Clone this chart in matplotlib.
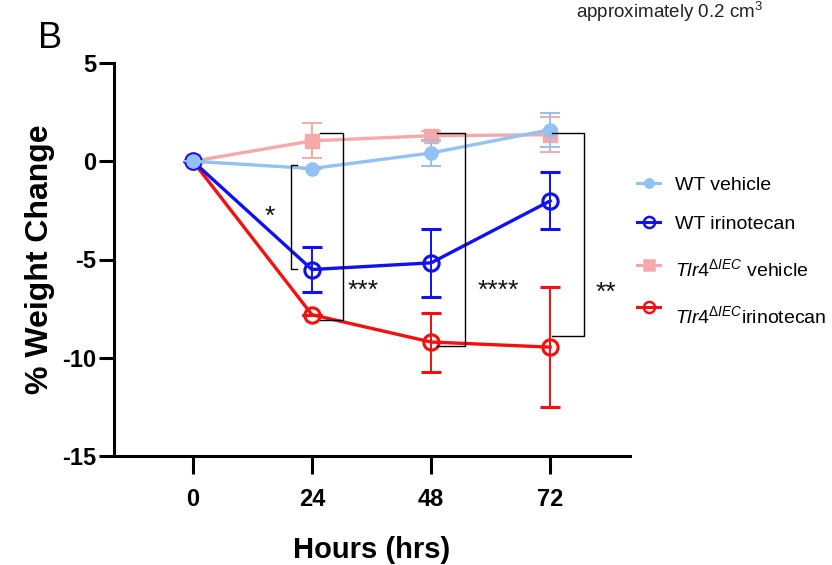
import matplotlib
matplotlib.use('Agg')
import matplotlib.pyplot as plt
from matplotlib.lines import Line2D

plt.rcParams['font.family'] = ['Liberation Sans', 'DejaVu Sans']
plt.rcParams['mathtext.fontset'] = 'custom'
plt.rcParams['mathtext.rm'] = 'Liberation Sans'
plt.rcParams['mathtext.it'] = 'Liberation Sans:italic'
plt.rcParams['mathtext.bf'] = 'Liberation Sans:bold'
plt.rcParams['axes.unicode_minus'] = False

# ---------------- data ----------------
hours = [0, 24, 48, 72]
xtick_labels = ['0', '24', '48', '72']
yticks = [5, 0, -5, -10, -15]

wt_veh = [0, -0.37, 0.42, 1.6]
wt_veh_err = [0, 0, 0.66, 0.85]
wt_iri = [0, -5.51, -5.17, -2.02]
wt_iri_err = [0, 1.16, 1.72, 1.45]
tlr_veh = [0, 1.04, 1.3, 1.35]
tlr_veh_err = [0, 0.9, 0.25, 0.9]
tlr_iri = [0, -7.81, -9.2, -9.46]
tlr_iri_err = [0, 0, 1.5, 3.05]

legend_labels = ['WT vehicle', 'WT irinotecan',
                 r'$\mathit{Tlr4}^{\mathit{\Delta IEC}}$ vehicle',
                 r'$\mathit{Tlr4}^{\mathit{\Delta IEC}}$irinotecan']

# significance brackets: (x of vertical, x of end ticks, y top, y bottom)
brackets = [(19.76, 20.97, -0.2, -5.46),
            (30.25, 25.6, 1.43, -8.1),
            (54.86, 49.2, 1.43, -9.42),
            (78.86, 72.4, 1.43, -8.91)]
stars = [('*', 15.5, -2.85), ('***', 34.3, -6.6), ('****', 61.6, -6.6), ('**', 83.3, -6.7)]

c_lblue = '#92C1F4'
c_blue = '#1010F5'
c_pink = '#F7A9AA'
c_red = '#F50F0F'

fig = plt.figure(figsize=(8.32, 5.65), dpi=100)
ax = fig.add_axes([114/832, 1-456/565, (630-114)/832, (456-63)/565])

# Tlr4 irinotecan
ax.errorbar(hours, tlr_iri, yerr=tlr_iri_err, color=c_red, lw=2.4,
            marker='o', ms=11, mfc='none', mec=c_red, mew=2.2,
            ecolor=c_red, elinewidth=1.4, capsize=7, capthick=1.4, zorder=3)
# Tlr4 vehicle
ax.errorbar(hours, tlr_veh, yerr=tlr_veh_err, color=c_pink, lw=2.4,
            marker='s', ms=9.5, mfc=c_pink, mec=c_pink,
            ecolor=c_pink, elinewidth=1.4, capsize=7, capthick=1.4, zorder=3)
# WT irinotecan
ax.errorbar(hours, wt_iri, yerr=wt_iri_err, color=c_blue, lw=2.4,
            marker='o', ms=11, mfc='none', mec=c_blue, mew=2.2,
            ecolor=c_blue, elinewidth=1.4, capsize=7, capthick=1.4, zorder=4)
# WT vehicle
ax.errorbar(hours, wt_veh, yerr=wt_veh_err, color=c_lblue, lw=2.4,
            marker='o', ms=9.5, mfc=c_lblue, mec=c_lblue,
            ecolor=c_lblue, elinewidth=1.4, capsize=7, capthick=1.4, zorder=5)

for xv, xe, yt, yb in brackets:
    ax.plot([xe, xv, xv, xe], [yt, yt, yb, yb], color='black', lw=1.0,
            clip_on=False, zorder=6)
for s, xs, ys in stars:
    ax.text(xs, ys, s, ha='center', va='center', fontsize=19, color='#111111',
            clip_on=False)

ax.set_xlim(-15.9, 88.1)
ax.set_ylim(-15, 5)
ax.set_xticks(hours)
ax.set_xticklabels(xtick_labels)
ax.set_yticks(yticks)
for sp in ['top', 'right']:
    ax.spines[sp].set_visible(False)
for sp in ['left', 'bottom']:
    ax.spines[sp].set_linewidth(2.2)
ax.tick_params(axis='both', width=2.2, labelsize=17)
ax.tick_params(axis='y', length=11, pad=2)
ax.tick_params(axis='x', length=13, pad=10)
for lab in ax.get_xticklabels() + ax.get_yticklabels():
    lab.set_fontweight('bold')
ax.set_xlabel('Hours (hrs)', fontsize=21, fontweight='bold', labelpad=18)
ax.set_ylabel('% Weight Change', fontsize=23, fontweight='bold', labelpad=5)

# overlay axes in pixel coordinates for legend and panel texts
lax = fig.add_axes([0, 0, 1, 1], zorder=10)
lax.set_xlim(0, 832)
lax.set_ylim(565, 0)
lax.axis('off')
lax.patch.set_alpha(0)

leg_specs = [
    (c_lblue, 'o', c_lblue, 6, 183, 190.5),
    (c_blue, 'o', 'none', 8, 222, 229),
    (c_pink, 's', c_pink, 6.5, 265, 276.5),
    (c_red, 'o', 'none', 8, 307, 323),
]
for (col, mk, fc, ms, ym, yb), lab in zip(leg_specs, legend_labels):
    lax.add_line(Line2D([637, 660], [ym, ym], color=col, lw=2.2))
    lax.add_line(Line2D([648.5], [ym], color=col, marker=mk, ms=ms,
                        mfc=fc, mec=col, mew=1.8, lw=0))
    lax.text(675, yb, lab, fontsize=14, va='baseline', ha='left')

lax.text(38, 48, 'B', fontsize=26, va='baseline', ha='left')
lax.text(576, 18.5, 'approximately 0.2 cm$^3$', fontsize=13.5, va='baseline', ha='left',
         color='#222222')

fig.savefig('out.png', dpi=100)
